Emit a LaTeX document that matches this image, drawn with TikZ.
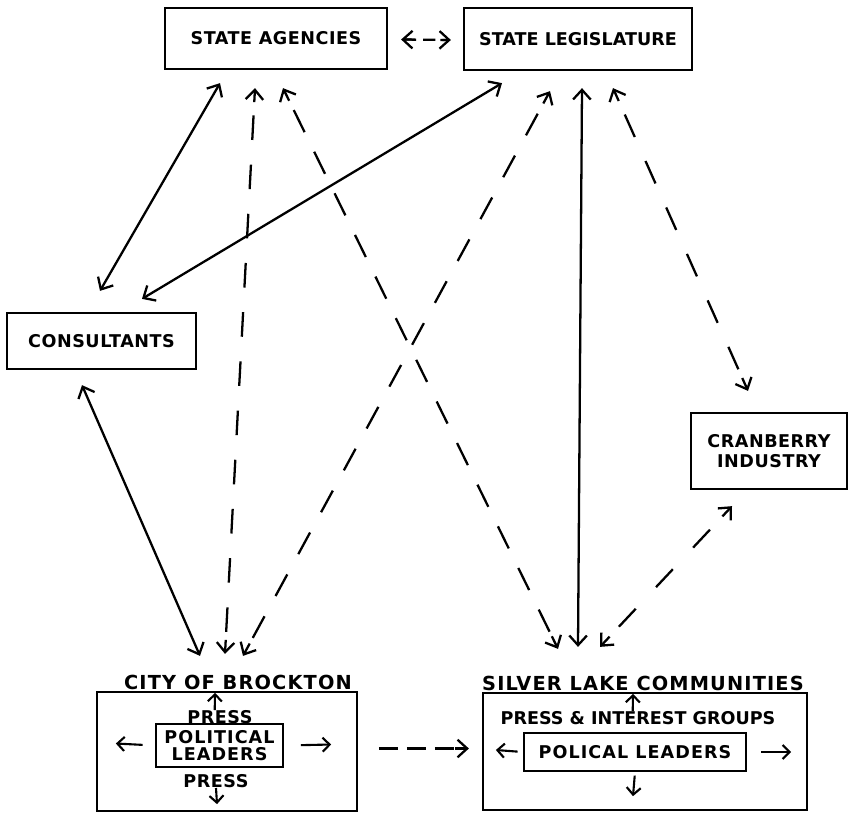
\documentclass[tikz,border=0pt]{standalone}
\usepackage{fontspec}
\setmainfont{DejaVu Sans}
\usetikzlibrary{arrows.meta, calc, decorations}

% dashed connector with solid heads at both ends
\newcommand{\dashlink}[2]{%
  \draw[dline] (#1) -- (#2);
  \draw[barb] ($(#1)!8pt!(#2)$) -- (#1);
  \draw[barb] ($(#2)!8pt!(#1)$) -- (#2);}

\begin{document}
\begin{tikzpicture}[x=0.02cm, y=-0.02cm,
    box/.style={draw, line width=1.3pt, inner sep=2pt, align=center,
      font=\fontsize{10}{11.5}\selectfont\bfseries\addfontfeature{LetterSpace=3}},
    lbl/.style={inner sep=0pt, font=\fontsize{10}{11}\selectfont\bfseries\addfontfeature{LetterSpace=3}},
    ttl/.style={inner sep=0pt, anchor=base, font=\fontsize{11}{12}\selectfont\bfseries\addfontfeature{LetterSpace=6}},
    link/.style={line width=1.3pt,
      {Straight Barb[length=5.5pt,width=10pt]}-{Straight Barb[length=5.5pt,width=10pt]}},
    dline/.style={line width=1.3pt, dash pattern=on 14pt off 12pt, dash expand off,
      shorten <=1.5pt, shorten >=1.5pt},
    barb/.style={line width=1.3pt, -{Straight Barb[length=5.5pt,width=10pt]}},
    tip/.style={line width=1.2pt, -{Straight Barb[length=4pt,width=8pt]}}]
  \useasboundingbox (0,0) rectangle (852,815);

  % State level
  \node[box, minimum width=4.44cm, minimum height=1.22cm] (agencies) at (276,38.5) {STATE AGENCIES};
  \node[box, minimum width=4.56cm, minimum height=1.24cm,
        font=\fontsize{10}{11.5}\selectfont\bfseries] (legis) at (578,39) {STATE LEGISLATURE};

  % Consultants and cranberry industry
  \node[box, minimum width=3.78cm, minimum height=1.12cm] (consult) at (101.5,341) {CONSULTANTS};
  \node[box, minimum width=3.12cm, minimum height=1.52cm] (cranb) at (769,451) {CRANBERRY\\INDUSTRY};

  % City of Brockton
  \node[box, minimum width=5.2cm, minimum height=2.38cm] (brock) at (227,751.5) {};
  \node[ttl] (brocktitle) at ($(brock.north)+(11,-1)$) {CITY OF BROCKTON};
  \node[box, inner sep=1pt, font=\fontsize{10}{9.8}\selectfont\bfseries\addfontfeature{LetterSpace=6},
        minimum width=2.54cm, minimum height=0.86cm] (brocklead) at (219.5,745.5) {POLITICAL\\LEADERS};
  \node[lbl] (bpress1) at (220,717) {PRESS};
  \node[lbl] (bpress2) at (216,781) {PRESS};
  \coordinate (bup) at ($(brock.north)+(-12,2)$);
  \coordinate (bdown) at ($(brock.south)+(-10,-8)$);
  \coordinate (bleft) at ($(brocklead.west)+(-39,-2)$);
  \coordinate (bright) at ($(brocklead.east)+(47,-1)$);
  \draw[tip] ([xshift=-3pt]bpress1.north) -- (bup);
  \draw[tip] (bpress2.south) -- (bdown);
  \draw[tip, shorten <=7pt] (brocklead.west) -- (bleft);
  \draw[tip, shorten <=9.5pt] (brocklead.east) -- (bright);

  % Silver Lake communities
  \node[box, minimum width=6.48cm, minimum height=2.34cm] (silver) at (645,751.5) {};
  \node[ttl] (silvertitle) at ($(silver.north)+(-2,-1)$) {SILVER LAKE COMMUNITIES};
  \node[box, inner sep=1pt, minimum width=4.44cm, minimum height=0.76cm,
        font=\fontsize{10}{11.5}\selectfont\bfseries\addfontfeature{LetterSpace=6}] (silverlead) at (635,752) {POLICAL LEADERS};
  \node[lbl, font=\fontsize{10}{11}\selectfont\bfseries] (spress) at (638,718) {PRESS \& INTEREST GROUPS};
  \coordinate (sup) at ($(silver.north)+(-12,2)$);
  \coordinate (sdown) at ($(silverlead.south)+(-2,24)$);
  \coordinate (sleft) at ($(silverlead.west)+(-27,-2)$);
  \coordinate (sright) at ($(silverlead.east)+(44,0)$);
  \draw[tip] ([xshift=-3pt]spress.north) -- (sup);
  \draw[tip, shorten <=2pt] (silverlead.south) -- (sdown);
  \draw[tip, shorten <=3pt] (silverlead.west) -- (sleft);
  \draw[tip, shorten <=8pt] (silverlead.east) -- (sright);

  % Connector ends
  \coordinate (ag1) at ($(agencies.south)+(-56,13)$);
  \coordinate (ag2) at ($(agencies.south)+(-21,18)$);
  \coordinate (ag3) at ($(agencies.south)+(7,18)$);
  \coordinate (le1) at ($(legis.south)+(-76,12)$);
  \coordinate (le2) at ($(legis.south)+(-28,20)$);
  \coordinate (le3) at ($(legis.south)+(4,17)$);
  \coordinate (le4) at ($(legis.south)+(35,17)$);
  \coordinate (co1) at ($(consult.north)+(-1.5,-21)$);
  \coordinate (co2) at ($(consult.north)+(40.5,-13)$);
  \coordinate (co3) at ($(consult.south)+(-19.5,15)$);
  \coordinate (cr1) at ($(cranb.north)+(-21,-21)$);
  \coordinate (cr2) at ($(cranb.south)+(-37,16)$);
  \coordinate (br1) at ($(brock.north)+(-27,-35)$);
  \coordinate (br2) at ($(brock.north)+(-2,-37)$);
  \coordinate (br3) at ($(brock.north)+(16,-35)$);
  \coordinate (br4) at ($(brock.east)+(18,-3)$);
  \coordinate (si1) at ($(silver.north)+(-87,-43)$);
  \coordinate (si2) at ($(silver.north)+(-67,-45)$);
  \coordinate (si3) at ($(silver.north)+(-45,-45)$);
  \coordinate (si4) at ($(silver.west)+(-13,-3)$);
  \coordinate (ag4) at ($(agencies.east)+(13,1)$);
  \coordinate (le5) at ($(legis.west)+(-12,1)$);

  % Solid connections
  \draw[link] (ag1) -- (co1);
  \draw[link] (le1) -- (co2);
  \draw[link] (co3) -- (br1);
  \draw[link] (le3) -- (si2);

  % Dashed connections
  \dashlink{ag2}{br2}
  \dashlink{ag3}{si1}
  \dashlink{le2}{br3}
  \dashlink{le4}{cr1}
  \dashlink{cr2}{si3}
  \draw[dline, dash pattern=on 7pt off 4pt] (ag4) -- (le5);
  \draw[barb] ($(ag4)!6pt!(le5)$) -- (ag4);
  \draw[barb] ($(le5)!6pt!(ag4)$) -- (le5);
  \draw[dline, dash pattern=on 11pt off 5pt] (br4) -- (si4);
  \draw[barb] ($(si4)!8pt!(br4)$) -- (si4);
\end{tikzpicture}
\end{document}
